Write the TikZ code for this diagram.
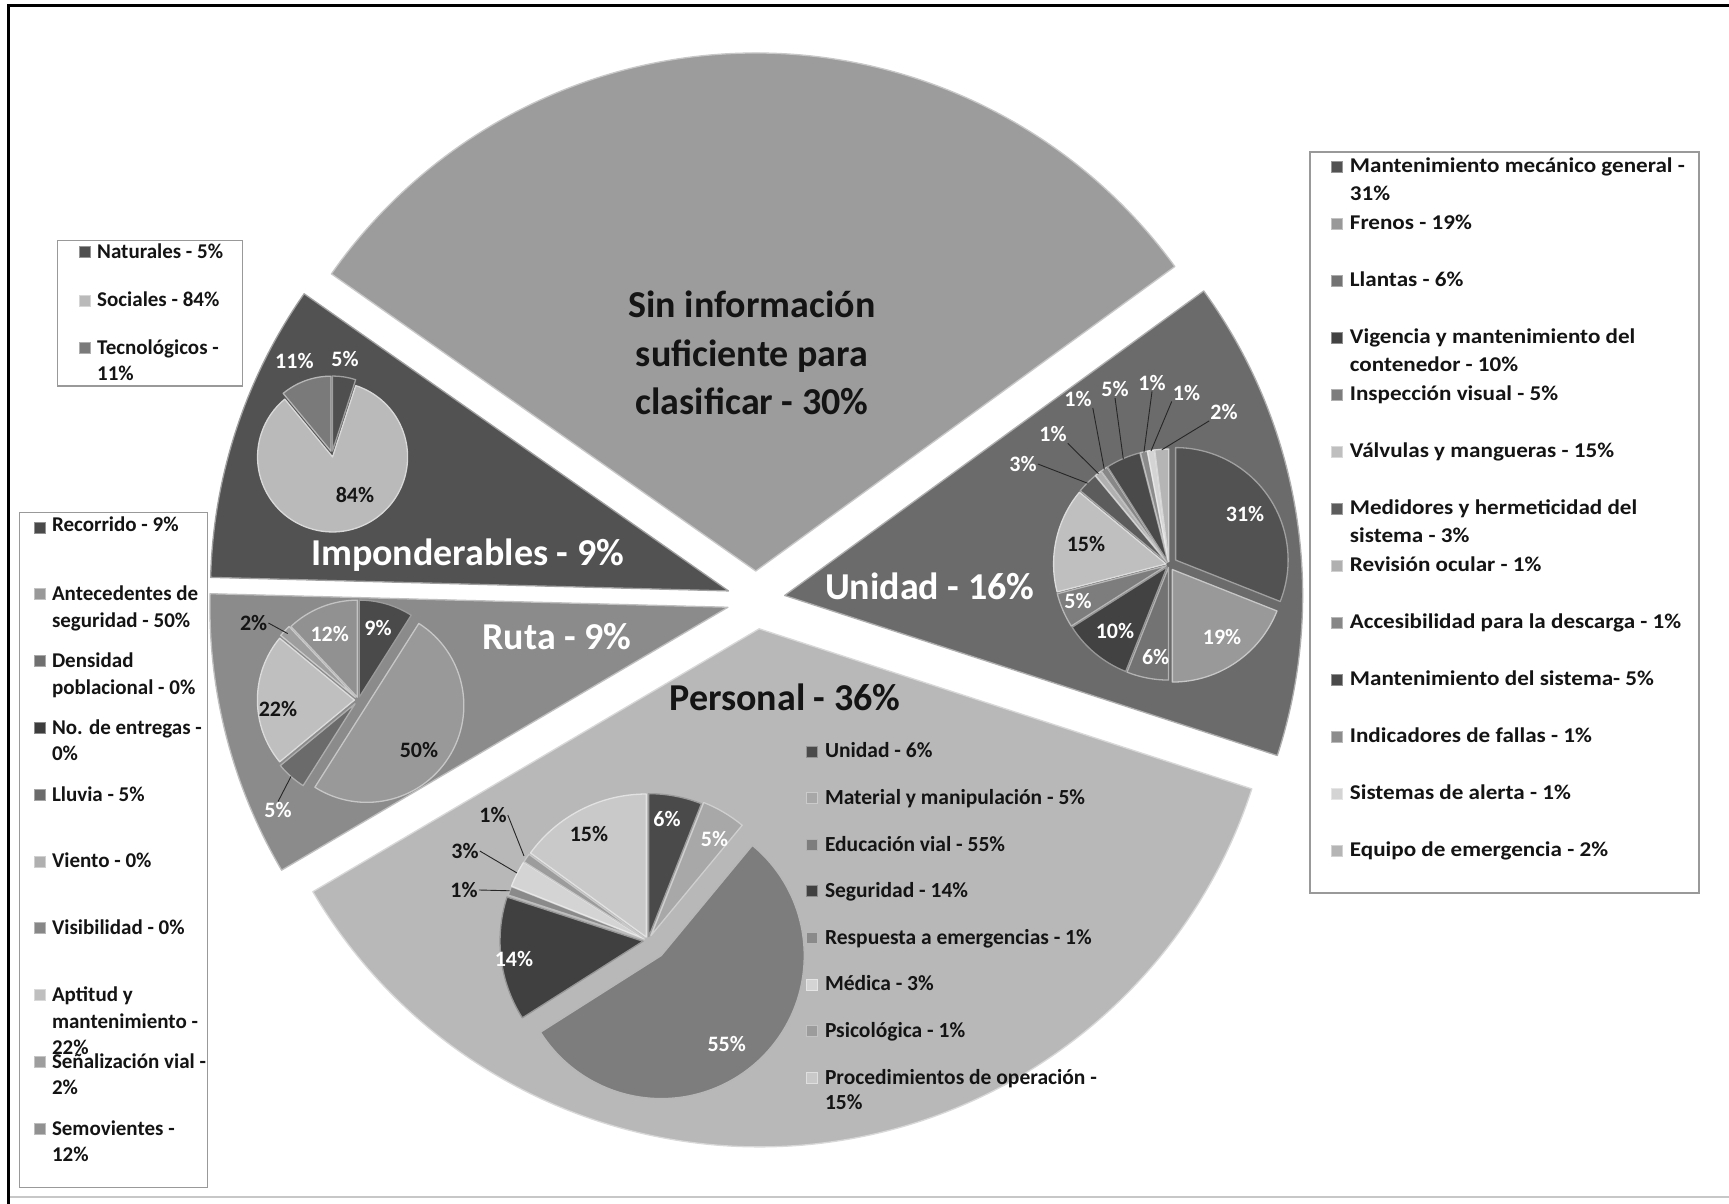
\documentclass[tikz,border=0pt]{standalone}
\usepackage{fontspec}
\setmainfont{Carlito}
\newfontfamily\widefont{Carlito}[FakeStretch=1.1]
\usetikzlibrary{calc}

\newcommand\defgray[2]{\definecolor{#1}{gray}{#2}}
% main wedges
\defgray{wsin}{0.61}\defgray{wuni}{0.42}\defgray{wper}{0.72}
\defgray{wrut}{0.545}\defgray{wimp}{0.32}
% Imponderables
\defgray{impN}{0.31}\defgray{impS}{0.73}\defgray{impT}{0.48}
% Ruta
\defgray{rutA}{0.29}\defgray{rutB}{0.60}\defgray{rutC}{0.44}\defgray{rutD}{0.24}
\defgray{rutE}{0.42}\defgray{rutF}{0.69}\defgray{rutG}{0.53}\defgray{rutH}{0.75}
\defgray{rutI}{0.62}\defgray{rutJ}{0.57}
% Personal
\defgray{perA}{0.29}\defgray{perB}{0.66}\defgray{perC}{0.49}\defgray{perD}{0.25}
\defgray{perE}{0.54}\defgray{perF}{0.83}\defgray{perG}{0.61}\defgray{perH}{0.79}
% Unidad
\defgray{uniA}{0.32}\defgray{uniB}{0.60}\defgray{uniC}{0.45}\defgray{uniD}{0.26}
\defgray{uniE}{0.49}\defgray{uniF}{0.75}\defgray{uniG}{0.36}\defgray{uniH}{0.69}
\defgray{uniI}{0.53}\defgray{uniJ}{0.29}\defgray{uniK}{0.55}\defgray{uniL}{0.83}
\defgray{uniM}{0.71}
\defgray{txtdark}{0.08}
\defgray{legframe}{0.60}
\defgray{leader}{0.15}

% one pie slice: centre x, centre y, radius, start angle, end angle, explode, colour
\newcommand\pslice[7]{%
  \pgfmathsetmacro\pmid{(#4+#5)/2}%
  \filldraw[fill=#7, draw=#7!55!white, line width=1.3pt, line join=round]
    ($(#1,#2)+(\pmid:#6)$) -- +(#4:#3) arc[start angle=#4, end angle=#5, radius=#3] -- cycle;
}
% legend entry text set on two or three lines, first baseline as base
\newcommand\twoline[2]{\vtop{\hbox{#1}\hbox{#2}}}
\newcommand\threeline[3]{\vtop{\hbox{#1}\hbox{#2}\hbox{#3}}}

\begin{document}
\begin{tikzpicture}[x=1pt,y=1pt,
  bigw/.style={font=\fontsize{38}{48.5}\selectfont\bfseries, inner sep=0, align=center},
  pctw/.style={font=\fontsize{22}{24}\selectfont\bfseries, inner sep=1pt, text=white},
  pctd/.style={font=\fontsize{22}{24}\selectfont\bfseries, inner sep=1pt, text=txtdark},
  legtxt/.style={anchor=base west, inner sep=0, text=txtdark,
    font=\fontsize{21}{26.5}\selectfont\bfseries},
  legwide/.style={anchor=base west, inner sep=0, text=txtdark,
    font=\widefont\fontsize{21}{27.6}\selectfont\bfseries},
  legper/.style={anchor=base west, inner sep=0, text=txtdark,
    font=\fontsize{21.5}{25.4}\selectfont\bfseries},
  mk/.style={draw=#1!60!white, fill=#1, line width=0.8pt, minimum size=11pt, inner sep=0},
  lead/.style={draw=leader, line width=0.9pt},
  box/.style={draw=legframe, line width=1.2pt}]
\useasboundingbox (0,0) rectangle (1729,1204);
\fill[white] (0,0) rectangle (1729,1204);

% ---------- main exploded pie ----------
\pslice{756}{604}{518}{36}{145}{29}{wsin}
\pslice{756}{604}{518}{145}{178.5}{29}{wimp}
\pslice{756}{604}{518}{178.5}{210.5}{29}{wrut}
\pslice{756}{604}{518}{210.5}{342}{29}{wper}
\pslice{756}{604}{518}{342}{396}{29}{wuni}

% ---------- Imponderables pie ----------
\pslice{332}{750}{75}{90}{72}{3}{impN}
\pslice{332}{750}{75}{72}{-230.4}{3}{impS}
\pslice{332}{750}{75}{129.6}{90}{3}{impT}

% ---------- Ruta pie ----------
\pslice{358.4}{504}{97}{90}{57.6}{3}{rutA}
\pslice{358.4}{504}{97}{57.6}{-122.4}{10}{rutB}
\pslice{358.4}{504}{97}{-122.4}{-140.4}{5}{rutE}
\pslice{358.4}{504}{97}{-140.4}{-219.6}{4}{rutH}
\pslice{358.4}{504}{97}{-219.6}{-226.8}{4}{rutI}
\pslice{358.4}{504}{97}{-226.8}{-270}{3}{rutJ}

% ---------- Personal pie ----------
\pslice{648}{263.4}{143}{90}{68.4}{4}{perA}
\pslice{648}{263.4}{143}{68.4}{50.4}{6}{perB}
\pslice{648}{263.4}{143}{50.4}{-147.6}{20}{perC}
\pslice{648}{263.4}{143}{-147.6}{-198}{5}{perD}
\pslice{648}{263.4}{143}{-198}{-201.6}{4}{perE}
\pslice{648}{263.4}{143}{-201.6}{-212.4}{4}{perF}
\pslice{648}{263.4}{143}{-212.4}{-216}{4}{perG}
\pslice{648}{263.4}{143}{-216}{-270}{4}{perH}

% ---------- Unidad pie ----------
\pslice{1169}{639.4}{112.5}{90}{-21.6}{8}{uniA}
\pslice{1169}{639.4}{112.5}{-21.6}{-90}{6}{uniB}
\pslice{1169}{639.4}{112.5}{-90}{-111.6}{3}{uniC}
\pslice{1169}{639.4}{112.5}{-111.6}{-147.6}{3}{uniD}
\pslice{1169}{639.4}{112.5}{-147.6}{-165.6}{3}{uniE}
\pslice{1169}{639.4}{112.5}{-165.6}{-219.6}{3}{uniF}
\pslice{1169}{639.4}{112.5}{-219.6}{-230.4}{3}{uniG}
\pslice{1169}{639.4}{112.5}{-230.4}{-234}{3}{uniH}
\pslice{1169}{639.4}{112.5}{-234}{-237.6}{3}{uniI}
\pslice{1169}{639.4}{112.5}{-237.6}{-255.6}{3}{uniJ}
\pslice{1169}{639.4}{112.5}{-255.6}{-259.2}{3}{uniK}
\pslice{1169}{639.4}{112.5}{-259.2}{-262.8}{3}{uniL}
\pslice{1169}{639.4}{112.5}{-262.8}{-270}{3}{uniM}

% ---------- category titles ----------
\node[bigw, text=txtdark] (tSin) at (752,851) {Sin información\\suficiente para\\clasificar - 30\%};
\node[bigw, text=white] (tImp) at (467.5,649) {Imponderables - 9\%};
\node[bigw, text=white] (tRut) at (557,567) {Ruta - 9\%};
\node[bigw, text=white] (tUni) at (929.6,617.4) {Unidad - 16\%};
\node[bigw, text=txtdark] (tPer) at (785,507) {Personal - 36\%};

% ---------- slice labels: Imponderables ----------
\node[pctw] (i5) at (345,844.5) {5\%};
\node[pctw] (i11) at (294.4,843.4) {11\%};
\node[pctd] (i84) at (355,709) {84\%};

% ---------- slice labels: Ruta ----------
\node[pctw] (r9) at (378,575.5) {9\%};
\node[pctw] (r12) at (329.7,570) {12\%};
\node[pctd] (r2) at (253.6,581) {2\%};
\node[pctd] (r22) at (278,495) {22\%};
\node[pctd] (r50) at (419,454) {50\%};
\node[pctw] (r5) at (278,393.5) {5\%};
\coordinate (r2t) at (287.7,570.4);
\coordinate (r5t) at (291,427.5);
\draw[lead] (r2.east) -- (r2t);
\draw[lead] (r5.north) -- (r5t);

% ---------- slice labels: Personal ----------
\node[pctw] (p6) at (667,385) {6\%};
\node[pctw] (p5) at (714.5,365) {5\%};
\node[pctd] (p15) at (589,370.4) {15\%};
\node[pctw] (p14) at (514,245) {14\%};
\node[pctw] (p55) at (726.7,160) {55\%};
\node[pctd] (p1a) at (493,389) {1\%};
\node[pctd] (p3) at (465,353) {3\%};
\node[pctd] (p1b) at (464,314) {1\%};
\coordinate (p1at) at (524,348);
\coordinate (p3t) at (517,331);
\coordinate (p1bt) at (509.7,313.2);
\draw[lead] (p1a.east) -- (p1at);
\draw[lead] (p3.east) -- (p3t);
\draw[lead] (p1b.east) -- (p1bt);

% ---------- slice labels: Unidad ----------
\node[pctw] (u31) at (1245,690) {31\%};
\node[pctw] (u19) at (1222,567) {19\%};
\node[pctw] (u6) at (1155.6,547) {6\%};
\node[pctw] (u10) at (1115,573) {10\%};
\node[pctw] (u5a) at (1078,603) {5\%};
\node[pctd] (u15) at (1086,660.4) {15\%};
\node[pctw] (u3) at (1023,740) {3\%};
\node[pctw] (u1a) at (1053,769.5) {1\%};
\node[pctw] (u1b) at (1078,805) {1\%};
\node[pctw] (u5b) at (1115,815) {5\%};
\node[pctw] (u1c) at (1152,821.4) {1\%};
\node[pctw] (u1d) at (1186.5,811.4) {1\%};
\node[pctw] (u2) at (1224,792) {2\%};
\coordinate (u3t) at (1087.7,720.7);
\coordinate (u1at) at (1098.5,730.3);
\coordinate (u1bt) at (1104.3,734.5);
\coordinate (u5bt) at (1123.3,744.9);
\coordinate (u1ct) at (1143.9,751.6);
\coordinate (u1dt) at (1151,753);
\coordinate (u2t) at (1161.8,754.2);
\draw[lead] (u3.east) -- (u3t);
\draw[lead] (u1a.south east) -- (u1at);
\draw[lead] (u1b.south east) -- (u1bt);
\draw[lead] (u5b.south) -- (u5bt);
\draw[lead] (u1c.south) -- (u1ct);
\draw[lead] (u1d.south west) -- (u1dt);
\draw[lead] (u2.south west) -- (u2t);

% ---------- legend: Imponderables ----------
\draw[box] (57.3,818) rectangle (242.6,963.6);
\node[mk=impN] (liN) at (85,952) {};
\node[legtxt] (ltN) at (97,945.5) {Naturales - 5\%};
\node[mk=impS] (liS) at (85,903.5) {};
\node[legtxt] (ltS) at (97,897) {Sociales - 84\%};
\node[mk=impT] (liT) at (85,856) {};
\node[legtxt] (ltT) at (97,849.5) {\twoline{Tecnológicos -}{11\%}};

% ---------- legend: Ruta ----------
\draw[box] (19.8,16.4) rectangle (207.3,691.3);
\node[mk=rutA] (lr0) at (39.7,676.5) {};
\node[legtxt] (tr0) at (51.8,672) {Recorrido - 9\%};
\node[mk=rutB] (lr1) at (39.7,609.7) {};
\node[legtxt] (tr1) at (51.8,603.2) {\twoline{Antecedentes de}{seguridad - 50\%}};
\node[mk=rutC] (lr2) at (39.7,542.9) {};
\node[legtxt] (tr2) at (51.8,536.4) {\twoline{Densidad}{poblacional - 0\%}};
\node[mk=rutD] (lr3) at (39.7,476.1) {};
\node[legtxt] (tr3) at (51.8,469.6) {\twoline{No. de entregas -}{0\%}};
\node[mk=rutE] (lr4) at (39.7,409.3) {};
\node[legtxt] (tr4) at (51.8,402.8) {Lluvia - 5\%};
\node[mk=rutF] (lr5) at (39.7,342.5) {};
\node[legtxt] (tr5) at (51.8,336) {Viento - 0\%};
\node[mk=rutG] (lr6) at (39.7,275.7) {};
\node[legtxt] (tr6) at (51.8,269.2) {Visibilidad - 0\%};
\node[mk=rutH] (lr7) at (39.7,208.9) {};
\node[legtxt] (tr7) at (51.8,202.4) {\threeline{Aptitud y}{mantenimiento -}{22\%}};
\node[mk=rutI] (lr8) at (39.7,142.1) {};
\node[legtxt] (tr8) at (51.8,135.6) {\twoline{Señalización vial -}{2\%}};
\node[mk=rutJ] (lr9) at (39.7,75.3) {};
\node[legtxt] (tr9) at (51.8,68.8) {\twoline{Semovientes -}{12\%}};

% ---------- legend: Unidad ----------
\draw[box] (1310,311) rectangle (1699,1052);
\node[mk=uniA] (lu0) at (1336.5,1037.5) {};
\node[legwide] (tu0) at (1349.7,1031) {\twoline{Mantenimiento mecánico general -}{31\%}};
\node[mk=uniB] (lu1) at (1336.5,980.5) {};
\node[legwide] (tu1) at (1349.7,974) {Frenos - 19\%};
\node[mk=uniC] (lu2) at (1336.5,923.5) {};
\node[legwide] (tu2) at (1349.7,917) {Llantas - 6\%};
\node[mk=uniD] (lu3) at (1336.5,866.5) {};
\node[legwide] (tu3) at (1349.7,860) {\twoline{Vigencia y mantenimiento del}{contenedor - 10\%}};
\node[mk=uniE] (lu4) at (1336.5,809.5) {};
\node[legwide] (tu4) at (1349.7,803) {Inspección visual - 5\%};
\node[mk=uniF] (lu5) at (1336.5,752.5) {};
\node[legwide] (tu5) at (1349.7,746) {Válvulas y mangueras - 15\%};
\node[mk=uniG] (lu6) at (1336.5,695.5) {};
\node[legwide] (tu6) at (1349.7,689) {\twoline{Medidores y hermeticidad del}{sistema - 3\%}};
\node[mk=uniH] (lu7) at (1336.5,638.5) {};
\node[legwide] (tu7) at (1349.7,632) {Revisión ocular - 1\%};
\node[mk=uniI] (lu8) at (1336.5,581.5) {};
\node[legwide] (tu8) at (1349.7,575) {Accesibilidad para la descarga - 1\%};
\node[mk=uniJ] (lu9) at (1336.5,524.5) {};
\node[legwide] (tu9) at (1349.7,518) {Mantenimiento del sistema- 5\%};
\node[mk=uniK] (lu10) at (1336.5,467.5) {};
\node[legwide] (tu10) at (1349.7,461) {Indicadores de fallas - 1\%};
\node[mk=uniL] (lu11) at (1336.5,410.5) {};
\node[legwide] (tu11) at (1349.7,404) {Sistemas de alerta - 1\%};
\node[mk=uniM] (lu12) at (1336.5,353.5) {};
\node[legwide] (tu12) at (1349.7,347) {Equipo de emergencia - 2\%};

% ---------- legend: Personal ----------
\node[mk=perA] (lp0) at (811.6,452.5) {};
\node[legper] (tp0) at (824.8,446) {Unidad - 6\%};
\node[mk=perB] (lp1) at (811.6,405.9) {};
\node[legper] (tp1) at (824.8,399.4) {Material y manipulación - 5\%};
\node[mk=perC] (lp2) at (811.6,359.3) {};
\node[legper] (tp2) at (824.8,352.8) {Educación vial - 55\%};
\node[mk=perD] (lp3) at (811.6,312.7) {};
\node[legper] (tp3) at (824.8,306.2) {Seguridad - 14\%};
\node[mk=perE] (lp4) at (811.6,266.1) {};
\node[legper] (tp4) at (824.8,259.6) {Respuesta a emergencias - 1\%};
\node[mk=perF] (lp5) at (811.6,219.5) {};
\node[legper] (tp5) at (824.8,213) {Médica - 3\%};
\node[mk=perG] (lp6) at (811.6,172.9) {};
\node[legper] (tp6) at (824.8,166.4) {Psicológica - 1\%};
\node[mk=perH] (lp7) at (811.6,126.3) {};
\node[legper] (tp7) at (824.8,119.8) {\twoline{Procedimientos de operación -}{15\%}};

% ---------- outer frame ----------
\draw[black, line width=3pt] (8,0) -- (8,1198) -- (1729,1198);
\draw[black!22, line width=2pt] (10,7) -- (1729,7);
\end{tikzpicture}
\end{document}
